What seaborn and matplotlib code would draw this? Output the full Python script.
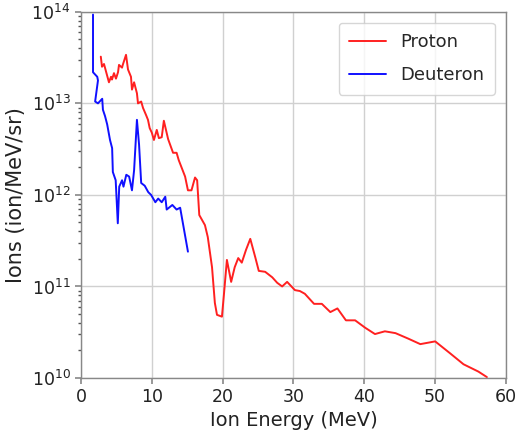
import numpy as np
import pandas as pd
import matplotlib
matplotlib.use("Agg")
import matplotlib.pyplot as plt
from matplotlib.ticker import FixedLocator, NullFormatter
import seaborn as sns

# Proton spectrum (MeV, log10 ions/MeV/sr)
proton_e = [2.8, 2.97, 3.25, 3.67, 3.95, 4.24, 4.38, 4.66, 4.94, 5.23, 5.37, 5.8, 5.9, 6.36,
            6.64, 7.06, 7.2, 7.5, 7.9, 8.05, 8.5, 8.76, 9.2, 9.46, 9.7, 10.0, 10.3, 10.7,
            11.0, 11.4, 11.7, 12.0, 12.3, 13.0, 13.5, 13.8, 14.7, 15.1, 15.6, 16.1, 16.4,
            16.7, 17.5, 17.9, 18.5, 18.9, 19.2, 19.9, 20.2, 20.6, 21.2, 21.7, 22.2, 22.7,
            23.3, 23.9, 24.6, 25.1, 26.0, 27.0, 27.7, 28.4, 29.1, 30.2, 30.9, 31.6, 32.9,
            34.0, 35.2, 36.2, 37.4, 38.7, 40.1, 41.5, 42.9, 44.4, 46.2, 47.9, 50.0, 52.1,
            54.0, 56.1, 57.3]
proton_log = [13.51, 13.40, 13.43, 13.31, 13.23, 13.29, 13.26, 13.33, 13.27, 13.34, 13.42,
              13.39, 13.42, 13.53, 13.37, 13.29, 13.15, 13.23, 13.11, 13.00, 13.02, 12.95,
              12.87, 12.82, 12.73, 12.68, 12.60, 12.71, 12.62, 12.63, 12.81, 12.71, 12.61,
              12.46, 12.46, 12.38, 12.20, 12.05, 12.05, 12.19, 12.16, 11.78, 11.67, 11.54,
              11.21, 10.82, 10.69, 10.67, 10.93, 11.29, 11.05, 11.21, 11.31, 11.26, 11.40,
              11.52, 11.32, 11.17, 11.16, 11.10, 11.04, 11.00, 11.05, 10.96, 10.95, 10.92,
              10.81, 10.81, 10.72, 10.76, 10.63, 10.63, 10.55, 10.48, 10.51, 10.49, 10.43,
              10.37, 10.40, 10.27, 10.15, 10.07, 10.01]

# Deuteron spectrum
deut_e = [1.7, 1.7, 2.3, 2.4, 2.0, 2.4, 3.0, 3.1, 3.4, 3.7, 4.1, 4.4, 4.5, 4.9, 5.2, 5.4,
          5.8, 6.0, 6.4, 6.8, 7.2, 7.5, 7.9, 8.2, 8.5, 9.0, 9.5, 9.9, 10.5, 10.9, 11.4,
          11.9, 12.1, 12.9, 13.5, 14.0, 15.1]
deut_log = [13.97, 13.34, 13.29, 13.25, 13.02, 13.00, 13.05, 12.93, 12.86, 12.77, 12.60,
            12.51, 12.25, 12.16, 11.69, 12.09, 12.16, 12.09, 12.22, 12.20, 12.05, 12.27,
            12.82, 12.55, 12.13, 12.10, 12.03, 12.00, 11.92, 11.96, 11.92, 11.98, 11.84,
            11.89, 11.84, 11.86, 11.38]

df = pd.concat([
    pd.DataFrame({"E": proton_e, "I": 10 ** np.array(proton_log), "s": "Proton"}),
    pd.DataFrame({"E": deut_e, "I": 10 ** np.array(deut_log), "s": "Deuteron"}),
])

sns.set_theme(style="whitegrid")
plt.rcParams["font.family"] = ["DejaVu Sans"]

fig = plt.figure(figsize=(5.19, 4.37), dpi=100)
ax = fig.add_axes([0.156, 0.135, 0.819, 0.838])
for name, col in [("Proton", "#ff2020"), ("Deuteron", "#1010ff")]:
    sub = df[df.s == name]
    sns.lineplot(x=sub.E.values, y=sub.I.values, sort=False, estimator=None, color=col,
                 lw=1.4, ax=ax, label=name)
ax.set_yscale("log")
ax.set_xlim(0, 60)
ax.set_ylim(1e10, 1e14)
ax.set_xticks([0, 10, 20, 30, 40, 50, 60])
minor_pos = [m * 10.0 ** d for d in range(10, 14) for m in range(2, 10)]
ax.yaxis.set_minor_locator(FixedLocator(minor_pos))
ax.yaxis.set_minor_formatter(NullFormatter())
ax.set_xlabel("Ion Energy (MeV)", fontsize=14, color="#222222", labelpad=3)
ax.set_ylabel("Ions (ion/MeV/sr)", fontsize=15, color="#222222", labelpad=4)
ax.tick_params(axis="both", which="major", direction="out", length=4, width=1.2,
               color="#888888", labelsize=12.5, labelcolor="#222222", left=True, bottom=True)
ax.tick_params(axis="y", which="minor", direction="out", length=2.5, width=1,
               color="#555555", left=True)
ax.grid(True, which="major", color="#d0d0d0", lw=1)
for s in ax.spines.values():
    s.set_color("#888888")
    s.set_linewidth(1)
leg = ax.legend(loc="upper right", fontsize=13, frameon=True, edgecolor="#cccccc",
                fancybox=True, handlelength=2.0, labelspacing=0.8, borderpad=0.6,
                bbox_to_anchor=(0.995, 0.995))
fig.savefig("out.png", dpi=100)
